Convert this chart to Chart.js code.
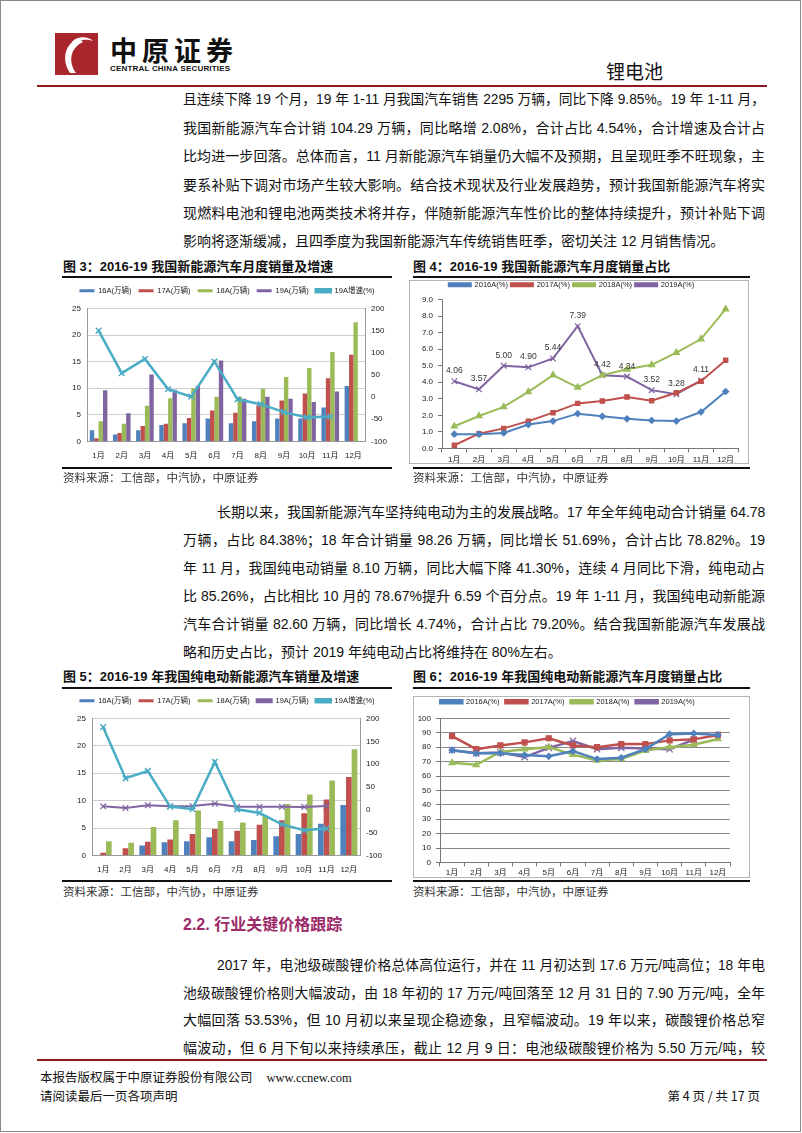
<!DOCTYPE html>
<html lang="zh-CN">
<head>
<meta charset="utf-8">
<title>锂电池 第4页</title>
<script src="https://cdn.jsdelivr.net/npm/chart.js@4.4.1/dist/chart.umd.min.js"></script>
<style>
  html, body { margin: 0; padding: 0; background: #fff; }
  body { width: 802px; height: 1133px; position: relative; overflow: hidden;
         font-family: "Liberation Sans", "Noto Sans CJK SC", sans-serif; color: #111; }
  .abs { position: absolute; }
  .frame { left: 0; top: 0; width: 799px; height: 1130px; border: 1px solid #8a8a8a; }
  .rule-red { left: 37px; width: 730px; height: 2px; background: #8e1b1f; }
  .rule-blk { height: 2px; background: #111; }
  .para { left: 183px; width: 582px; font-size: 14px; }
  .ln { width: 100%; box-sizing: border-box; white-space: nowrap; text-align: justify; text-align-last: justify; }
  .ln.last { text-align-last: left; }
  .ln.ind { padding-left: 34px; }
  .figt { font-size: 13px; font-weight: bold; line-height: 16px; white-space: nowrap; }
  .src { font-size: 11.5px; color: #333; line-height: 14px; white-space: nowrap; }
  .box { border: 1px solid #b5b5b5; box-sizing: border-box; }
  canvas { position: absolute; }
</style>
</head>
<body>
<div class="abs frame"></div>

<!-- header -->
<svg class="abs" style="left:55px;top:33px" width="43" height="42" viewBox="0 0 43 42">
  <rect width="43" height="42" fill="#a8262c"/>
  <path d="M24 5 C10 10 6 27 15 40 L21 40 C13 29 15 15 28 9 Z" fill="#fff"/>
  <path d="M17 9 C22 3 33 3 38 8 C32 6 24 6 19 11 Z" fill="#fff"/>
</svg>
<div class="abs" style="left:110px;top:34px;font-size:27px;font-weight:bold;letter-spacing:5px;line-height:32px;font-family:'Noto Sans CJK SC'">中原证券</div>
<div class="abs" style="left:110px;top:64px;font-size:8px;font-weight:bold;line-height:9px;letter-spacing:0.2px;font-family:'Liberation Sans Narrow','Liberation Sans'">CENTRAL CHINA SECURITIES</div>
<div class="abs" style="left:606px;top:59px;font-size:19px;line-height:24px;font-family:'Noto Sans CJK SC'">锂电池</div>
<div class="abs rule-red" style="top:85px"></div>

<!-- paragraph 1 -->
<div class="abs para" style="top:86px;line-height:28.2px">
  <div class="ln">且连续下降 19 个月，19 年 1-11 月我国汽车销售 2295 万辆，同比下降 9.85%。19 年 1-11 月，</div>
  <div class="ln">我国新能源汽车合计销 104.29 万辆，同比略增 2.08%，合计占比 4.54%，合计增速及合计占</div>
  <div class="ln">比均进一步回落。总体而言，11 月新能源汽车销量仍大幅不及预期，且呈现旺季不旺现象，主</div>
  <div class="ln">要系补贴下调对市场产生较大影响。结合技术现状及行业发展趋势，预计我国新能源汽车将实</div>
  <div class="ln">现燃料电池和锂电池两类技术将并存，伴随新能源汽车性价比的整体持续提升，预计补贴下调</div>
  <div class="ln last">影响将逐渐缓减，且四季度为我国新能源汽车传统销售旺季，密切关注 12 月销售情况。</div>
</div>

<!-- figure 3 / 4 -->
<div class="abs figt" style="left:63px;top:259px">图 3：2016-19 我国新能源汽车月度销量及增速</div>
<div class="abs figt" style="left:413px;top:259px">图 4：2016-19 我国新能源汽车月度销量占比</div>
<div class="abs rule-blk" style="left:62px;top:276px;width:330px"></div>
<div class="abs rule-blk" style="left:413px;top:276px;width:337px"></div>
<div class="abs box" style="left:409px;top:280px;width:340px;height:184px"></div>
<canvas id="fig3" width="330" height="186" style="left:62px;top:280px"></canvas>
<canvas id="fig4" width="345" height="190" style="left:405px;top:278px"></canvas>
<div class="abs rule-blk" style="left:62px;top:467px;width:330px"></div>
<div class="abs rule-blk" style="left:413px;top:467px;width:337px"></div>
<div class="abs src" style="left:63px;top:471px">资料来源：工信部，中汽协，中原证券</div>
<div class="abs src" style="left:413px;top:471px">资料来源：工信部，中汽协，中原证券</div>

<!-- paragraph 2 -->
<div class="abs para" style="top:498px;line-height:28px">
  <div class="ln ind">长期以来，我国新能源汽车坚持纯电动为主的发展战略。17 年全年纯电动合计销量 64.78</div>
  <div class="ln">万辆，占比 84.38%；18 年合计销量 98.26 万辆，同比增长 51.69%，合计占比 78.82%。19</div>
  <div class="ln">年 11 月，我国纯电动销量 8.10 万辆，同比大幅下降 41.30%，连续 4 月同比下滑，纯电动占</div>
  <div class="ln">比 85.26%，占比相比 10 月的 78.67%提升 6.59 个百分点。19 年 1-11 月，我国纯电动新能源</div>
  <div class="ln">汽车合计销量 82.60 万辆，同比增长 4.74%，合计占比 79.20%。结合我国新能源汽车发展战</div>
  <div class="ln last">略和历史占比，预计 2019 年纯电动占比将维持在 80%左右。</div>
</div>

<!-- figure 5 / 6 -->
<div class="abs figt" style="left:63px;top:669px">图 5：2016-19 年我国纯电动新能源汽车销量及增速</div>
<div class="abs figt" style="left:413px;top:669px">图 6：2016-19 年我国纯电动新能源汽车月度销量占比</div>
<div class="abs rule-blk" style="left:62px;top:687px;width:330px"></div>
<div class="abs rule-blk" style="left:413px;top:687px;width:337px"></div>
<div class="abs box" style="left:413px;top:696px;width:337px;height:182px"></div>
<canvas id="fig5" width="330" height="187" style="left:62px;top:690px"></canvas>
<canvas id="fig6" width="345" height="188" style="left:405px;top:692px"></canvas>
<div class="abs rule-blk" style="left:62px;top:880px;width:330px"></div>
<div class="abs rule-blk" style="left:413px;top:880px;width:337px"></div>
<div class="abs src" style="left:63px;top:885px">资料来源：工信部，中汽协，中原证券</div>
<div class="abs src" style="left:413px;top:885px">资料来源：工信部，中汽协，中原证券</div>

<!-- section 2.2 -->
<div class="abs" style="left:183px;top:914px;font-size:16px;line-height:22px;color:#9c2b68;font-weight:bold">2.2. 行业关键价格跟踪</div>

<!-- paragraph 3 -->
<div class="abs para" style="top:952px;line-height:27.7px">
  <div class="ln ind">2017 年，电池级碳酸锂价格总体高位运行，并在 11 月初达到 17.6 万元/吨高位；18 年电</div>
  <div class="ln">池级碳酸锂价格则大幅波动，由 18 年初的 17 万元/吨回落至 12 月 31 日的 7.90 万元/吨，全年</div>
  <div class="ln">大幅回落 53.53%，但 10 月初以来呈现企稳迹象，且窄幅波动。19 年以来，碳酸锂价格总窄</div>
  <div class="ln">幅波动，但 6 月下旬以来持续承压，截止 12 月 9 日：电池级碳酸锂价格为 5.50 万元/吨，较</div>
</div>

<!-- footer -->
<div class="abs rule-red" style="top:1059px"></div>
<div class="abs" style="left:40px;top:1068px;font-size:12.5px;line-height:18px;font-family:'Noto Sans CJK SC'">本报告版权属于中原证券股份有限公司<span style="font-family:'Liberation Serif';margin-left:14px">www.ccnew.com</span></div>
<div class="abs" style="left:40px;top:1087px;font-size:12.5px;line-height:18px;font-family:'Noto Sans CJK SC'">请阅读最后一页各项声明</div>
<div class="abs" style="right:42px;top:1087px;font-size:12.5px;line-height:18px;font-family:'Noto Sans CJK SC'">第 4 页 / 共 17 页</div>

<script>
// ---- data ----
const months = ['1月', '2月', '3月', '4月', '5月', '6月', '7月', '8月', '9月', '10月', '11月', '12月'];

// 图3 新能源汽车月度销量（万辆）及19年增速（%）
const nev16 = [2.1, 1.3, 2.1, 3.1, 3.4, 4.3, 3.4, 3.8, 4.3, 4.3, 6.4, 10.4];
const nev17 = [0.6, 1.6, 2.9, 3.3, 4.4, 5.8, 5.4, 6.8, 7.7, 9.0, 11.9, 16.3];
const nev18 = [3.8, 3.3, 6.7, 8.1, 10.0, 8.4, 8.4, 9.9, 12.1, 13.8, 16.8, 22.4];
const nev19 = [9.6, 5.3, 12.6, 9.7, 10.4, 15.2, 8.0, 8.4, 8.0, 7.4, 9.4, null];
const nev19Growth = [150, 54, 86, 18, 1, 80, -5, -16, -34, -46, -44, null];

// 图4 新能源汽车销量占比（%）
const share16 = [0.86, 0.86, 0.93, 1.44, 1.65, 2.10, 1.94, 1.79, 1.69, 1.65, 2.20, 3.44];
const share17 = [0.19, 0.89, 1.21, 1.65, 2.16, 2.72, 2.86, 3.11, 2.88, 3.36, 4.06, 5.33];
const share18 = [1.34, 1.96, 2.51, 3.42, 4.43, 3.69, 4.43, 4.78, 5.05, 5.79, 6.61, 8.42];
const share19 = [4.06, 3.57, 5.00, 4.90, 5.44, 7.39, 4.42, 4.34, 3.52, 3.28, 4.11, null];

// 图5 纯电动销量（万辆）及19年增速（%）
const bev16 = [null, null, 1.8, 2.4, 2.6, 3.3, 2.6, 2.8, 3.5, 3.9, 5.8, 9.2];
const bev17 = [0.5, 1.3, 2.5, 2.9, 3.9, 4.8, 4.5, 5.6, 6.4, 7.7, 10.2, 14.3];
const bev18 = [2.6, 2.3, 5.2, 6.4, 8.2, 6.3, 6.0, 7.3, 9.4, 11.1, 13.7, 19.4];
const bev19 = [7.6, 4.0, 10.0, 7.8, 8.2, 13.4, 6.5, 6.6, 6.5, 6.2, 8.1, null];
const bev19Growth = [181, 69, 85, 7, 1.5, 105, 1, -7, -32, -45, -41.3, null];

// 图6 纯电动占比（%）
const bevShare16 = [78.0, 75.8, 75.8, 74.6, 73.7, 77.3, 71.8, 72.7, 78.7, 89.1, 89.6, 88.6];
const bevShare17 = [87.7, 78.7, 81.3, 83.4, 86.3, 81.3, 80.1, 82.2, 82.2, 84.8, 85.5, 88.6];
const bevShare18 = [69.2, 67.8, 76.8, 78.7, 80.1, 74.9, 70.9, 71.8, 77.7, 80.1, 81.8, 85.8];
const bevShare19 = [78.0, 75.8, 76.3, 73.2, 79.6, 84.4, 78.7, 79.6, 79.1, 78.67, 85.26, null];

// ---- styles ----
const BLUE = '#4f81bd', RED = '#c0504d', GREEN = '#9bbb59', PURPLE = '#8064a2', CYAN = '#4bacc6';
const TXT = '#222';

Chart.defaults.font.family = '"Liberation Sans", "Noto Sans CJK SC", sans-serif';
Chart.defaults.animation = false;

// fit each justified line into its width
document.querySelectorAll('.ln').forEach(el => {
  let fs = parseFloat(getComputedStyle(el).fontSize);
  while (el.scrollWidth > el.clientWidth + 0.5 && fs > 10) {
    fs -= 0.25;
    el.style.fontSize = fs + 'px';
  }
});

// extra room under the legend
function legendGap(extra) {
  return {
    id: 'legendGap',
    beforeInit(chart) {
      const fit = chart.legend.fit;
      chart.legend.fit = function () {
        fit.call(this);
        this.height += extra;
      };
    }
  };
}

// value labels for 2019 share
const shareLabels = {
  id: 'shareLabels',
  afterDatasetsDraw(chart) {
    const meta = chart.getDatasetMeta(3);
    const ctx = chart.ctx;
    ctx.save();
    ctx.font = '8.5px "Liberation Sans"';
    ctx.fillStyle = '#333';
    ctx.textAlign = 'center';
    ctx.textBaseline = 'bottom';
    meta.data.forEach((pt, i) => {
      const v = share19[i];
      if (v == null) return;
      ctx.fillText(v.toFixed(2), pt.x, pt.y - 6);
    });
    ctx.restore();
  }
};

function legendOpts(box, gap) {
  return {
    position: 'top',
    labels: {
      boxWidth: box, boxHeight: 3, color: TXT, padding: gap,
      font: { size: 7.5 },
      sort: (a, b) => a.datasetIndex - b.datasetIndex
    }
  };
}

function barLineOptions(leftW, rightW, bottomPad) {
  return {
    responsive: false,
    layout: { padding: { top: 0, bottom: bottomPad, left: 0, right: 0 } },
    datasets: { bar: { categoryPercentage: 0.76, barPercentage: 1.0 } },
    plugins: { legend: legendOpts(15, 7), tooltip: { enabled: false } },
    scales: {
      x: {
        grid: { display: false },
        border: { color: '#999' },
        ticks: { color: TXT, font: { size: 8 }, padding: 2, maxRotation: 0, autoSkip: false }
      },
      y: {
        position: 'left', min: 0, max: 25,
        ticks: { stepSize: 5, color: TXT, font: { size: 8 }, padding: 6 },
        grid: { color: '#cfcfcf', drawTicks: false },
        border: { color: '#999' },
        afterFit(s) { s.width = leftW; }
      },
      y1: {
        position: 'right', min: -100, max: 200,
        ticks: { stepSize: 50, color: TXT, font: { size: 8 }, padding: 6 },
        grid: { drawOnChartArea: false, drawTicks: false },
        border: { color: '#999' },
        afterFit(s) { s.width = rightW; }
      }
    }
  };
}

function shareOptions(max, step, decimals, leftW, rightPad, gridColor, bottomPad, legendPad, xPad) {
  return {
    responsive: false,
    layout: { padding: { top: 0, bottom: bottomPad, left: 0, right: rightPad } },
    plugins: { legend: legendOpts(22, legendPad), tooltip: { enabled: false } },
    scales: {
      x: {
        offset: true,
        grid: { offset: true, drawOnChartArea: false, tickLength: 4, color: '#777' },
        border: { color: '#777' },
        ticks: { color: TXT, font: { size: 8 }, padding: xPad, maxRotation: 0, autoSkip: false }
      },
      y: {
        min: 0, max: max,
        ticks: { stepSize: step, color: TXT, font: { size: 8 }, padding: 5,
                 callback: v => v.toFixed(decimals) },
        grid: { color: gridColor, drawOnChartArea: gridColor !== null, tickLength: 4, tickColor: '#777' },
        border: { color: '#777' },
        afterFit(s) { s.width = leftW; }
      }
    }
  };
}

function shareSet(label, data, color, style, radius, width) {
  return {
    label: label, data: data, borderColor: color, backgroundColor: color,
    borderWidth: width, pointStyle: style, pointRadius: radius,
    pointBorderColor: color, pointBackgroundColor: color, pointBorderWidth: 1.2, tension: 0
  };
}

// 图3
new Chart(document.getElementById('fig3'), {
  type: 'bar',
  data: {
    labels: months,
    datasets: [
      { label: '16A(万辆)', data: nev16, backgroundColor: BLUE, yAxisID: 'y', order: 2 },
      { label: '17A(万辆)', data: nev17, backgroundColor: RED, yAxisID: 'y', order: 2 },
      { label: '18A(万辆)', data: nev18, backgroundColor: GREEN, yAxisID: 'y', order: 2 },
      { label: '19A(万辆)', data: nev19, backgroundColor: PURPLE, yAxisID: 'y', order: 2 },
      { type: 'line', label: '19A增速(%)', data: nev19Growth, yAxisID: 'y1', order: 1,
        borderColor: CYAN, backgroundColor: CYAN, borderWidth: 2.5, tension: 0,
        pointStyle: 'crossRot', pointRadius: 4, pointBorderColor: CYAN, pointBorderWidth: 1.5 }
    ]
  },
  options: barLineOptions(25, 27, 3),
  plugins: [legendGap(4)]
});

// 图4
new Chart(document.getElementById('fig4'), {
  type: 'line',
  data: {
    labels: months,
    datasets: [
      shareSet('2016A(%)', share16, BLUE, 'rectRot', 3, 2),
      shareSet('2017A(%)', share17, RED, 'rect', 3, 2),
      shareSet('2018A(%)', share18, GREEN, 'triangle', 3.5, 2),
      shareSet('2019A(%)', share19, PURPLE, 'crossRot', 4, 2)
    ]
  },
  options: shareOptions(9, 1, 1, 37, 12, null, 0, 3, 3),
  plugins: [legendGap(1), shareLabels]
});

// 图5
new Chart(document.getElementById('fig5'), {
  type: 'bar',
  data: {
    labels: months,
    datasets: [
      { label: '16A(万辆)', data: bev16, backgroundColor: BLUE, yAxisID: 'y', order: 2 },
      { label: '17A(万辆)', data: bev17, backgroundColor: RED, yAxisID: 'y', order: 2 },
      { label: '18A(万辆)', data: bev18, backgroundColor: GREEN, yAxisID: 'y', order: 2 },
      { type: 'line', label: '19A(万辆)', data: bev19, yAxisID: 'y1', order: 1,
        borderColor: PURPLE, backgroundColor: PURPLE, borderWidth: 2, tension: 0,
        pointStyle: 'crossRot', pointRadius: 4, pointBorderColor: PURPLE, pointBorderWidth: 1.2 },
      { type: 'line', label: '19A增速(%)', data: bev19Growth, yAxisID: 'y1', order: 0,
        borderColor: CYAN, backgroundColor: CYAN, borderWidth: 2.5, tension: 0,
        pointStyle: 'crossRot', pointRadius: 4, pointBorderColor: CYAN, pointBorderWidth: 1.5 }
    ]
  },
  options: barLineOptions(30, 32, 0),
  plugins: [legendGap(4)]
});

// 图6
new Chart(document.getElementById('fig6'), {
  type: 'line',
  data: {
    labels: months,
    datasets: [
      shareSet('2016A(%)', bevShare16, BLUE, 'rectRot', 3, 2.5),
      shareSet('2017A(%)', bevShare17, RED, 'rect', 3.5, 2.5),
      shareSet('2018A(%)', bevShare18, GREEN, 'triangle', 3.5, 2.5),
      shareSet('2019A(%)', bevShare19, PURPLE, 'crossRot', 4.5, 2.5)
    ]
  },
  options: shareOptions(100, 10, 0, 35, 20, '#8a8a8a', 0, 6, 2),
  plugins: [legendGap(3)]
});
</script>
</body>
</html>
